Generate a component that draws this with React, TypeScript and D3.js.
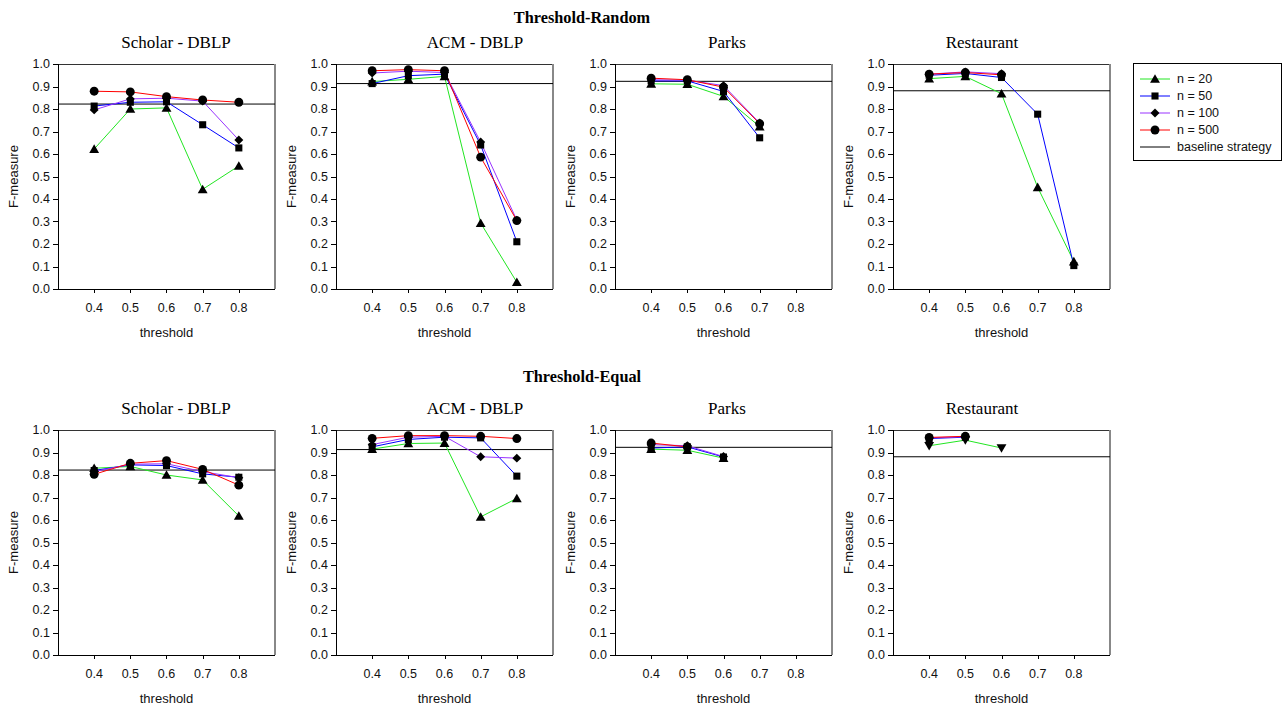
import React from 'react';
import * as d3 from 'd3';

const thresholds = [0.4, 0.5, 0.6, 0.7, 0.8];
const yTicks = [0, 0.1, 0.2, 0.3, 0.4, 0.5, 0.6, 0.7, 0.8, 0.9, 1.0];
const seriesLabels = ['n = 20', 'n = 50', 'n = 100', 'n = 500'];
const seriesColors = ['#22e622', '#0000ff', '#9933ff', '#ff0000'];
// diamond drawn as a square turned 45 degrees
const seriesSymbols = [d3.symbolTriangle, d3.symbolSquare, d3.symbolSquare, d3.symbolCircle];
const datasets = ['Scholar - DBLP', 'ACM - DBLP', 'Parks', 'Restaurant'];
const baselines = [0.822, 0.913, 0.923, 0.881];
const groupTitles = ['Threshold-Random', 'Threshold-Equal'];

// rows: n = 20, 50, 100, 500 ; columns: thresholds
const randomScholar = [
  [0.622, 0.8, 0.805, 0.443, 0.547],
  [0.813, 0.83, 0.832, 0.73, 0.627],
  [0.796, 0.845, 0.848, 0.835, 0.662],
  [0.879, 0.876, 0.855, 0.84, 0.83],
];
const randomAcm = [
  [0.922, 0.932, 0.945, 0.293, 0.03],
  [0.913, 0.948, 0.955, 0.64, 0.21],
  [0.96, 0.968, 0.962, 0.653, 0.306],
  [0.97, 0.975, 0.97, 0.586, 0.304],
];
const randomParks = [
  [0.912, 0.91, 0.856, 0.722, null],
  [0.925, 0.925, 0.878, 0.672, null],
  [0.93, 0.928, 0.904, 0.738, null],
  [0.937, 0.93, 0.897, 0.735, null],
];
const randomRestaurant = [
  [0.935, 0.945, 0.868, 0.452, 0.122],
  [0.95, 0.958, 0.94, 0.777, 0.104],
  [0.955, 0.965, 0.957, null, null],
  [0.955, 0.962, 0.952, null, null],
];
const equalScholar = [
  [0.83, 0.838, 0.8, 0.778, 0.618],
  [0.82, 0.845, 0.842, 0.805, 0.79],
  [0.815, 0.848, 0.85, 0.815, 0.788],
  [0.803, 0.852, 0.864, 0.825, 0.755],
];
const equalAcm = [
  [0.915, 0.94, 0.942, 0.614, 0.696],
  [0.925, 0.958, 0.968, 0.965, 0.795],
  [0.935, 0.968, 0.972, 0.881, 0.875],
  [0.963, 0.975, 0.975, 0.972, 0.962],
];
const equalParks = [
  [0.915, 0.91, 0.875, null, null],
  [0.92, 0.925, 0.88, null, null],
  [0.935, 0.93, 0.882, null, null],
  [0.942, 0.925, null, null, null],
];
const equalRestaurant = [
  [0.93, 0.955, 0.92, null, null],
  [0.962, 0.968, null, null, null],
  [0.965, 0.97, null, null, null],
  [0.967, 0.972, null, null, null],
];

const rows = [
  [randomScholar, randomAcm, randomParks, randomRestaurant],
  [equalScholar, equalAcm, equalParks, equalRestaurant],
];

// layout
const W = 1285, H = 707;
const plotLefts = [58, 336, 615, 893];
const plotW = 217;
const rowTops = [64, 430];
const plotH = 225;
const subtitleX = [176, 475, 727, 982];
const serif = '"Liberation Serif", "Times New Roman", serif';
const sans = '"Liberation Sans", Arial, sans-serif';

const symbolSizes = [42, 50, 40, 62];

function Marker({ s, x, y, invert }: { s: number; x: number; y: number; invert?: boolean }) {
  const d = d3.symbol().type(seriesSymbols[s]).size(symbolSizes[s])() as string;
  const ty = s === 0 ? (invert ? -1 : 1) : 0;
  const rot = s === 2 ? 45 : invert ? 180 : 0;
  return (
    <path d={d} fill="#000" transform={`translate(${x},${y + ty}) rotate(${rot})`} />
  );
}

function Panel({ row, col }: { row: number; col: number }) {
  const left = plotLefts[col];
  const top = rowTops[row];
  const x = d3.scaleLinear().domain([0.3, 0.9]).range([left, left + plotW]);
  const y = d3.scaleLinear().domain([0, 1]).range([top + plotH, top]);
  const data = rows[row][col];
  const line = d3.line<number | null>()
    .defined(v => v != null)
    .x((_, i) => x(thresholds[i]))
    .y(v => y(v as number));
  const invertGreen = row === 1 && col === 3;
  const bottom = top + plotH;
  return (
    <g>
      <text x={subtitleX[col]} y={top - 16} textAnchor="middle" fontFamily={serif} fontSize={17}>{datasets[col]}</text>
      {/* frame */}
      <line x1={left} x2={left + plotW} y1={top + 0.5} y2={top + 0.5} stroke="#333" strokeWidth={1} />
      <line x1={left + plotW} x2={left + plotW} y1={top} y2={bottom} stroke="#888" strokeWidth={2} />
      <line x1={left + 0.5} x2={left + 0.5} y1={top} y2={bottom} stroke="#000" />
      <line x1={left} x2={left + plotW} y1={bottom + 0.5} y2={bottom + 0.5} stroke="#000" />
      {yTicks.map(t => (
        <g key={t}>
          <line x1={left - 5} x2={left} y1={Math.round(y(t)) + 0.5} y2={Math.round(y(t)) + 0.5} stroke="#000" />
          <text x={left - 8} y={y(t)} dy="0.35em" textAnchor="end" fontFamily={sans} fontSize={12.5} fill="#111">{d3.format('.1f')(t)}</text>
        </g>
      ))}
      {thresholds.map(t => (
        <g key={t}>
          <line x1={Math.round(x(t)) + 0.5} x2={Math.round(x(t)) + 0.5} y1={bottom} y2={bottom + 4} stroke="#000" />
          <text x={x(t)} y={bottom + 19} dy="0.35em" textAnchor="middle" fontFamily={sans} fontSize={12.5} fill="#111">{d3.format('.1f')(t)}</text>
        </g>
      ))}
      <text transform={`translate(${left - 40},${top + plotH / 2}) rotate(-90)`} textAnchor="middle" fontFamily={sans} fontSize={13} fill="#111">F-measure</text>
      <text x={left + plotW / 2} y={bottom + 48} textAnchor="middle" fontFamily={sans} fontSize={13} fill="#111">threshold</text>
      <line x1={left} x2={left + plotW} y1={y(baselines[col])} y2={y(baselines[col])} stroke="#000" strokeWidth={1} />
      {data.map((vals, s) => (
        <path key={s} d={line(vals) as string} fill="none" stroke={seriesColors[s]} strokeWidth={1} />
      ))}
      {data.map((vals, s) => vals.map((v, i) => v == null ? null : (
        <Marker key={`${s}-${i}`} s={s} x={x(thresholds[i])} y={y(v)} invert={s === 0 && invertGreen} />
      )))}
    </g>
  );
}

function Legend() {
  const lx = 1133, ly = 63;
  return (
    <g>
      <rect x={lx + 0.5} y={ly + 0.5} width={148} height={97} fill="#fff" stroke="#000" />
      {seriesLabels.map((lab, s) => {
        const yy = ly + 16 + s * 17;
        return (
          <g key={lab}>
            <line x1={lx + 7} x2={lx + 37} y1={yy} y2={yy} stroke={seriesColors[s]} />
            <Marker s={s} x={lx + 22} y={yy} />
            <text x={lx + 44} y={yy} dy="0.35em" fontFamily={sans} fontSize={12.5} fill="#111">{lab}</text>
          </g>
        );
      })}
      <line x1={lx + 7} x2={lx + 37} y1={ly + 84} y2={ly + 84} stroke="#000" />
      <text x={lx + 44} y={ly + 84} dy="0.35em" fontFamily={sans} fontSize={12.5} fill="#111">baseline strategy</text>
    </g>
  );
}

export default function App() {
  return (
    <svg width={W} height={H} style={{ position: 'absolute', left: 0, top: 0, background: '#fff' }}>
      <text x={582} y={23} textAnchor="middle" fontFamily={serif} fontWeight="bold" fontSize={16.3}>{groupTitles[0]}</text>
      <text x={582} y={382} textAnchor="middle" fontFamily={serif} fontWeight="bold" fontSize={16.3}>{groupTitles[1]}</text>
      {[0, 1].map(r => [0, 1, 2, 3].map(c => <Panel key={`${r}-${c}`} row={r} col={c} />))}
      <Legend />
    </svg>
  );
}
